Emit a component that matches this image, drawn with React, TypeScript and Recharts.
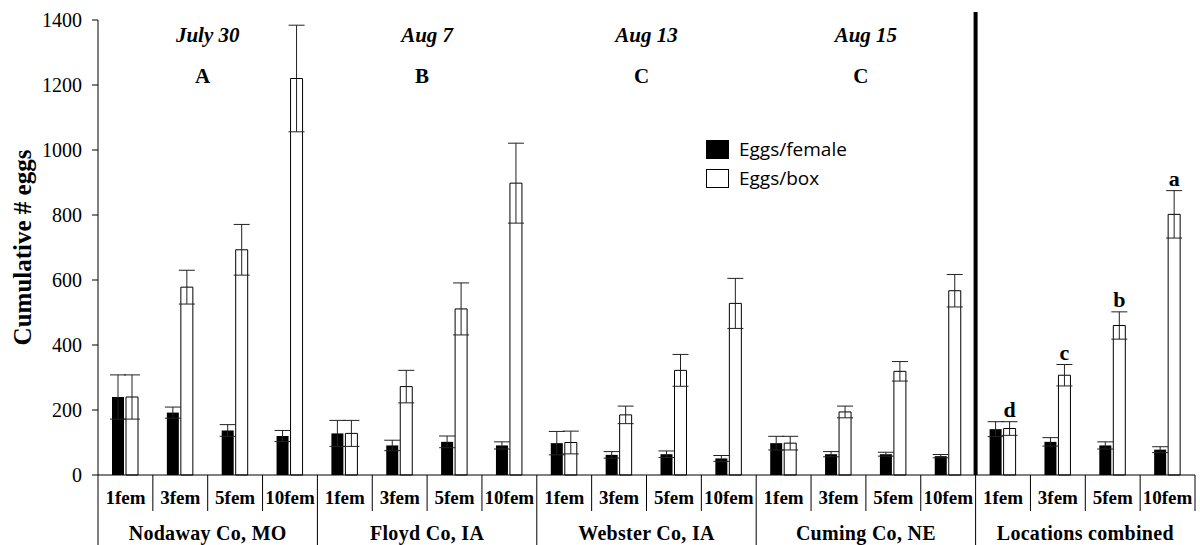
import React from "react"
import {
  BarChart,
  Bar,
  XAxis,
  YAxis,
  ErrorBar,
  Legend,
  LabelList,
} from "recharts"

// sites, dates and tukey letters
const sitios = ["Nodaway Co, MO", "Floyd Co, IA", "Webster Co, IA", "Cuming Co, NE", "Locations combined"]
const datas = ["July 30", "Aug 7", "Aug 13", "Aug 15", ""]
const letrasSitio = ["A", "B", "C", "C", ""]
const densidades = ["1fem", "3fem", "5fem", "10fem"]

// one value per bar, in site order (4 densities each)
const ovosFemea = [240, 192, 137, 120, 128, 91, 102, 91, 98, 62, 64, 51, 98, 64, 64, 58, 141, 102, 91, 78]
const erroFemea = [68, 17, 18, 17, 40, 16, 18, 11, 36, 10, 10, 9, 21, 8, 6, 5, 23, 13, 11, 9]
const ovosCaixa = [240, 578, 693, 1220, 128, 272, 511, 898, 100, 185, 322, 528, 98, 194, 319, 567, 143, 307, 460, 802]
const erroCaixa = [68, 52, 78, 164, 40, 50, 80, 123, 35, 27, 49, 77, 21, 18, 30, 50, 21, 33, 42, 73]
const letrasCaixa = ["", "", "", "", "", "", "", "", "", "", "", "", "", "", "", "", "d", "c", "b", "a"]

const yTicks = [0, 200, 400, 600, 800, 1000, 1200, 1400]

const dados = ovosFemea.map((v, i) => ({
  cat: `${sitios[Math.floor(i / 4)]}-${densidades[i % 4]}`,
  femea: v,
  femeaErr: erroFemea[i],
  caixa: ovosCaixa[i],
  caixaErr: erroCaixa[i],
}))

const W = 1200
const H = 545
const TOPO = 20
const ESQ = 98
const DIR = 5
const BAND = (W - ESQ - DIR) / dados.length
const serif = "'Liberation Serif', 'Times New Roman', serif"

function TickCategoria(props: any) {
  const { x, y, payload } = props
  const idx = props.index ?? dados.findIndex((d) => d.cat === payload.value)
  const esq = x - BAND / 2
  const inicioGrupo = idx % 4 === 0
  const g = Math.floor(idx / 4)
  const centroGrupo = esq + 2 * BAND
  return (
    <g>
      <text x={x} y={y + 29} textAnchor="middle" fontFamily={serif} fontWeight="bold" fontSize={19} fill="#000">
        {densidades[idx % 4]}
      </text>
      <line x1={esq} x2={esq} y1={y} y2={inicioGrupo ? y + 70 : y + 36} stroke="#000" />
      {idx === dados.length - 1 && (
        <line x1={x + BAND / 2} x2={x + BAND / 2} y1={y} y2={y + 36} stroke="#000" />
      )}
      {inicioGrupo && (
        <text x={centroGrupo} y={y + 65} textAnchor="middle" fontFamily={serif} fontWeight="bold" fontSize={20} letterSpacing={0.3} fill="#000">
          {sitios[g]}
        </text>
      )}
      {inicioGrupo && datas[g] && (
        <text x={centroGrupo} y={TOPO + 22} textAnchor="middle" fontFamily={serif} fontWeight="bold" fontStyle="italic" fontSize={21} fill="#000">
          {datas[g]}
        </text>
      )}
      {inicioGrupo && letrasSitio[g] && (
        <text x={centroGrupo - 5} y={TOPO + 63} textAnchor="middle" fontFamily={serif} fontWeight="bold" fontSize={21} fill="#000">
          {letrasSitio[g]}
        </text>
      )}
      {idx === 16 && <line x1={esq} x2={esq} y1={12} y2={y} stroke="#000" strokeWidth={4} />}
    </g>
  )
}

function LetraCaixa(props: any) {
  const { x, y, width, height, index } = props
  const letra = letrasCaixa[index]
  if (!letra) return null
  const v = ovosCaixa[index]
  const errPx = (height / v) * erroCaixa[index]
  return (
    <text x={x + width / 2} y={y - errPx - 5} textAnchor="middle" fontFamily={serif} fontWeight="bold" fontSize={22} fill="#000">
      {letra}
    </text>
  )
}

function Legenda() {
  const itens = [
    { nome: "Eggs/female", fill: "#000" },
    { nome: "Eggs/box", fill: "#fff" },
  ]
  return (
    <div style={{ fontFamily: "'Open Sans', sans-serif", fontSize: 19, color: "#000", lineHeight: "29px" }}>
      {itens.map((it) => (
        <div key={it.nome} style={{ display: "flex", alignItems: "center", height: 29, whiteSpace: "nowrap" }}>
          <span
            style={{
              display: "inline-block",
              width: 21,
              height: 17,
              background: it.fill,
              border: "1px solid #000",
              marginRight: 10,
            }}
          />
          <span>{it.nome}</span>
        </div>
      ))}
    </div>
  )
}

export default function App() {
  return (
    <div style={{ position: "absolute", left: 0, top: 0, width: W, height: H, background: "#fff" }}>
      <BarChart
        width={W}
        height={H}
        data={dados}
        margin={{ top: TOPO, right: DIR, left: 0, bottom: 0 }}
        barSize={12}
        barGap={2}
      >
        <XAxis
          dataKey="cat"
          height={70}
          interval={0}
          tickLine={false}
          tickSize={0}
          tickMargin={0}
          axisLine={{ stroke: "#000" }}
          tick={<TickCategoria />}
        />
        <YAxis
          width={ESQ}
          domain={[0, 1400]}
          ticks={yTicks}
          interval={0}
          tickSize={6}
          tickMargin={10}
          axisLine={{ stroke: "#000" }}
          tickLine={{ stroke: "#000" }}
          tick={{ fontFamily: serif, fontSize: 20, fill: "#000" }}
          label={({ viewBox }: any) => (
            <text
              x={25}
              y={viewBox.y + viewBox.height / 2}
              transform={`rotate(-90, 25, ${viewBox.y + viewBox.height / 2})`}
              textAnchor="middle"
              dominantBaseline="middle"
              fontFamily={serif}
              fontWeight="bold"
              fontSize={25}
              fill="#000"
            >
              Cumulative # eggs
            </text>
          )}
        />
        <Legend
          layout="vertical"
          align="center"
          verticalAlign="middle"
          content={<Legenda />}
          wrapperStyle={{ position: "absolute", left: 706, top: 135, width: 200, height: 60 }}
        />
        <Bar dataKey="femea" name="Eggs/female" fill="#000" isAnimationActive={false}>
          <ErrorBar dataKey="femeaErr" width={8} stroke="#222" strokeWidth={1} />
        </Bar>
        <Bar dataKey="caixa" name="Eggs/box" fill="#fff" stroke="#000" strokeWidth={1} isAnimationActive={false}>
          <ErrorBar dataKey="caixaErr" width={8} stroke="#222" strokeWidth={1} />
          <LabelList dataKey="caixa" content={<LetraCaixa />} />
        </Bar>
      </BarChart>
    </div>
  )
}
